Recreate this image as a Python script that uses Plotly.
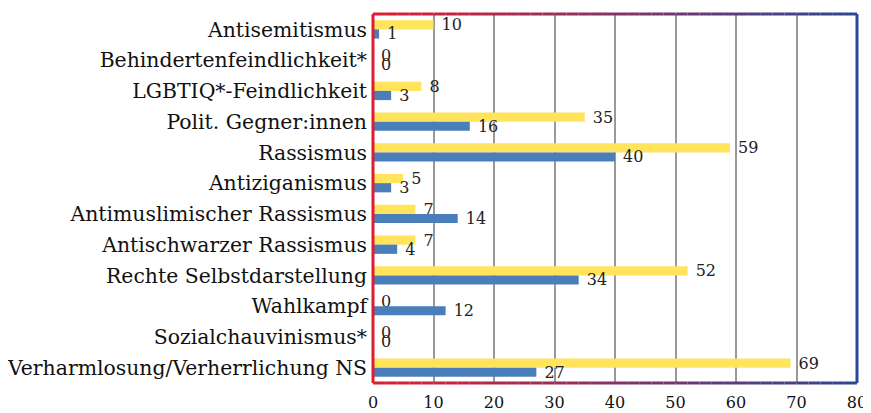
import plotly.graph_objects as go

categories = ["Antisemitismus", "Behindertenfeindlichkeit*", "LGBTIQ*-Feindlichkeit",
              "Polit. Gegner:innen", "Rassismus", "Antiziganismus",
              "Antimuslimischer Rassismus", "Antischwarzer Rassismus",
              "Rechte Selbstdarstellung", "Wahlkampf", "Sozialchauvinismus*",
              "Verharmlosung/Verherrlichung NS"]
yellow_vals = [10, 0, 8, 35, 59, 5, 7, 7, 52, 0, 0, 69]
blue_vals = [1, 0, 3, 16, 40, 3, 14, 4, 34, 12, 0, 27]
x_ticks = [0, 10, 20, 30, 40, 50, 60, 70, 80]

FONT = "DejaVu Serif"
fig = go.Figure()
fig.add_trace(go.Bar(y=categories, x=yellow_vals, orientation="h",
                     marker=dict(color="#FFE45C", line=dict(width=0)),
                     text=yellow_vals, texttemplate=" %{x}", textposition="outside",
                     cliponaxis=False, constraintext="none",
                     textfont=dict(family=FONT, size=16, color="#222")))
fig.add_trace(go.Bar(y=categories, x=blue_vals, orientation="h",
                     marker=dict(color="#4A7EBB", line=dict(width=0)),
                     text=blue_vals, texttemplate=" %{x}", textposition="outside",
                     cliponaxis=False, constraintext="none",
                     textfont=dict(family=FONT, size=16, color="#222")))

shapes = []
def lerp(c1, c2, t):
    return "rgb(%d,%d,%d)" % tuple(round(a + (b - a) * t) for a, b in zip(c1, c2))
red = (220, 30, 50)
blue = (45, 70, 150)
N = 40
for i in range(N):
    t0, t1 = i / N, (i + 1) / N
    col = lerp(red, blue, (t0 + t1) / 2)
    for yy in (0, 1):
        shapes.append(dict(type="line", xref="paper", yref="paper", x0=t0, x1=t1,
                           y0=yy, y1=yy, line=dict(color=col, width=3), layer="above"))
shapes.append(dict(type="line", xref="paper", yref="paper", x0=0, x1=0, y0=0, y1=1,
                   line=dict(color="rgb(220,30,50)", width=3), layer="above"))
shapes.append(dict(type="line", xref="paper", yref="paper", x0=1, x1=1, y0=0, y1=1,
                   line=dict(color="rgb(45,70,150)", width=3), layer="above"))

fig.update_layout(
    width=863, height=405,
    margin=dict(l=365, r=14, t=6, b=30),
    paper_bgcolor="white", plot_bgcolor="white",
    barmode="group", bargap=0.40, bargroupgap=0,
    showlegend=False,
    shapes=shapes,
    font=dict(family=FONT, color="#111"),
    xaxis=dict(range=[0, 80], tickvals=x_ticks, showgrid=True, gridcolor="#999",
               gridwidth=2, zeroline=False, showline=False, ticks="",
               automargin=False, ticklabelstandoff=8,
               tickfont=dict(family=FONT, size=16, color="#111")),
    yaxis=dict(autorange="reversed", showgrid=False, ticks="", showline=False,
               ticklabelstandoff=5, automargin=False,
               tickfont=dict(family=FONT, size=20.4, color="#111")),
)
fig.write_html("out.html")
